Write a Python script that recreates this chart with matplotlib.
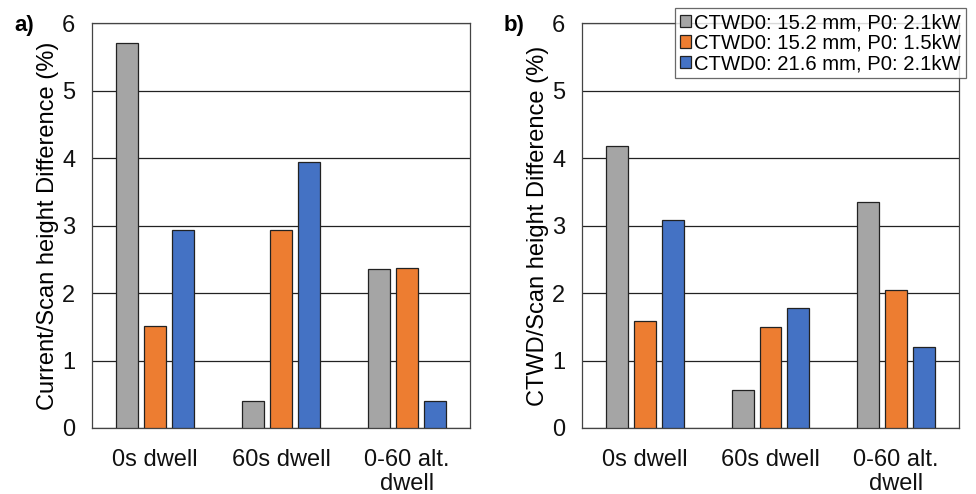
import numpy as np
import matplotlib
matplotlib.use("Agg")
import matplotlib.pyplot as plt

plt.rcParams['font.family'] = ['Liberation Sans', 'DejaVu Sans']

categories = ["0s dwell", "60s dwell", "0-60 alt.\ndwell"]
series_names = ["CTWD0: 15.2 mm, P0: 2.1kW",
                "CTWD0: 15.2 mm, P0: 1.5kW",
                "CTWD0: 21.6 mm, P0: 2.1kW"]
colors = ["#A5A5A5", "#ED7D31", "#4472C4"]

# panel a) current / scan height difference (%)
current_diff = [
    [5.71, 0.40, 2.36],   # 15.2 mm, 2.1kW
    [1.51, 2.93, 2.37],   # 15.2 mm, 1.5kW
    [2.94, 3.94, 0.40],   # 21.6 mm, 2.1kW
]
# panel b) CTWD / scan height difference (%)
ctwd_diff = [
    [4.18, 0.56, 3.35],
    [1.59, 1.49, 2.05],
    [3.08, 1.78, 1.20],
]

fig = plt.figure(figsize=(9.76, 4.94), dpi=100)
ax_a = fig.add_axes([92/976, 1-428/494, 378/976, 405/494])
ax_b = fig.add_axes([582/976, 1-428/494, 377/976, 405/494])

x = np.arange(len(categories))
w = 0.175
step = 0.222
fs = 17

def draw(ax, data, ylabel):
    handles = []
    for i, vals in enumerate(data):
        h = ax.bar(x + (i-1)*step, vals, width=w, color=colors[i],
                   edgecolor="#222222", linewidth=0.9, zorder=3,
                   label=series_names[i])
        handles.append(h)
    ax.set_xlim(-0.5, 2.5)
    ax.set_ylim(0, 6)
    ax.set_yticks(range(0, 7))
    ax.yaxis.grid(True, color="#222222", linewidth=0.9, zorder=0)
    ax.set_axisbelow(True)
    ax.set_xticks(x)
    ax.set_xticklabels(categories, fontsize=fs, linespacing=1.1)
    ax.tick_params(axis='both', length=0, labelsize=fs, colors="#111111")
    ax.tick_params(axis='x', pad=15)
    ax.tick_params(axis='y', pad=12)
    for s in ax.spines.values():
        s.set_color("#444444")
        s.set_linewidth(0.9)
    ax.set_ylabel(ylabel, fontsize=fs, labelpad=2)
    return handles

draw(ax_a, current_diff, "Current/Scan height Difference (%)")
handles = draw(ax_b, ctwd_diff, "CTWD/Scan height Difference (%)")

fig.text(14/976, 1-25/494, "a)", fontsize=16, fontweight="bold", va="center")
fig.text(504/976, 1-25/494, "b)", fontsize=16, fontweight="bold", va="center")

leg = fig.legend(handles=handles, loc="upper right",
                 bbox_to_anchor=(966/976, 1-8/494), fontsize=14.6,
                 frameon=True, fancybox=False, handlelength=0.55,
                 handleheight=0.55, handletextpad=0.15, borderpad=0.25,
                 labelspacing=0.08, borderaxespad=0)
leg.get_frame().set_edgecolor("#444444")
leg.get_frame().set_linewidth(0.9)
leg.set_zorder(10)

fig.savefig("out.png", dpi=100)
